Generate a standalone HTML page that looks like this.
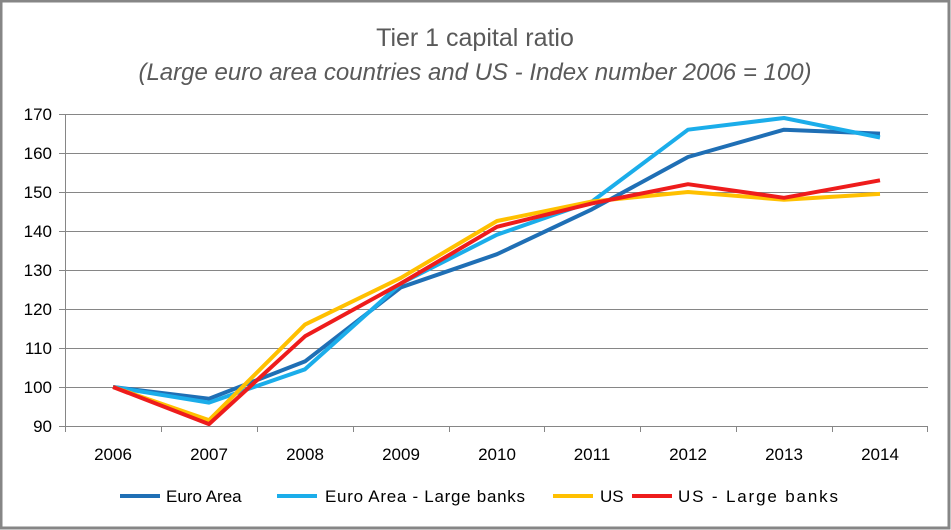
<!DOCTYPE html>
<html><head><meta charset="utf-8"><style>
html,body{margin:0;padding:0;background:#fff}
svg{display:block}
text{font-family:"Liberation Sans",sans-serif}
</style></head><body>
<svg width="951" height="530" xmlns="http://www.w3.org/2000/svg">
<rect x="1" y="1" width="948" height="527" fill="#fff" stroke="#868686" stroke-width="3"/>
<text x="475" y="46" text-anchor="middle" font-size="25" fill="#595959">Tier 1 capital ratio</text>
<text x="475" y="80" text-anchor="middle" font-size="24" font-style="italic" fill="#595959">(Large euro area countries and US - Index number 2006 = 100)</text>
<g stroke="#868686" stroke-width="1">
<line x1="59" y1="114.5" x2="928" y2="114.5"/>
<line x1="59" y1="153.5" x2="928" y2="153.5"/>
<line x1="59" y1="192.5" x2="928" y2="192.5"/>
<line x1="59" y1="231.5" x2="928" y2="231.5"/>
<line x1="59" y1="270.5" x2="928" y2="270.5"/>
<line x1="59" y1="309.5" x2="928" y2="309.5"/>
<line x1="59" y1="348.5" x2="928" y2="348.5"/>
<line x1="59" y1="387.5" x2="928" y2="387.5"/>
<line x1="59" y1="426.5" x2="928" y2="426.5"/>
<line x1="65.5" y1="114" x2="65.5" y2="432"/>
<line x1="161.5" y1="426" x2="161.5" y2="432"/><line x1="257.5" y1="426" x2="257.5" y2="432"/><line x1="353.5" y1="426" x2="353.5" y2="432"/><line x1="449.5" y1="426" x2="449.5" y2="432"/><line x1="544.5" y1="426" x2="544.5" y2="432"/><line x1="640.5" y1="426" x2="640.5" y2="432"/><line x1="736.5" y1="426" x2="736.5" y2="432"/><line x1="832.5" y1="426" x2="832.5" y2="432"/><line x1="927.5" y1="426" x2="927.5" y2="432"/>
</g>
<g font-size="17" fill="#000" text-anchor="end">
<text x="52" y="120">170</text><text x="52" y="159">160</text><text x="52" y="198">150</text><text x="52" y="237">140</text><text x="52" y="276">130</text><text x="52" y="315">120</text><text x="52" y="354">110</text><text x="52" y="393">100</text><text x="52" y="432">90</text>
</g>
<g font-size="17" fill="#000" text-anchor="middle">
<text x="113" y="460">2006</text><text x="209" y="460">2007</text><text x="305" y="460">2008</text><text x="401" y="460">2009</text><text x="497" y="460">2010</text><text x="592" y="460">2011</text><text x="688" y="460">2012</text><text x="784" y="460">2013</text><text x="880" y="460">2014</text>
</g>
<g fill="none" stroke-width="4" stroke-linejoin="round">
<polyline stroke="#1F6FB5" points="113,387 209,398.7 305,361.4 401,287.3 497,254.2 592,209.3 688,157 784,129.7 880,133.6"/>
<polyline stroke="#1BADEA" points="113,387 209,402.6 305,369.3 401,283.4 497,234.7 592,201.5 688,129.7 784,118 880,137.5"/>
<polyline stroke="#FFC000" points="113,387 209,420.2 305,324.6 401,277.8 497,221 592,201.5 688,192 784,199.7 880,193.9"/>
<polyline stroke="#EE1C1C" points="113,387 209,424.1 305,336.3 401,283.4 497,226.8 592,203.4 688,184.2 784,197.8 880,180.3"/>
</g>
<g font-size="17" fill="#000">
<line x1="120" y1="496" x2="160" y2="496" stroke="#1F6FB5" stroke-width="4"/><text x="166" y="502">Euro Area</text>
<line x1="277" y1="496" x2="317" y2="496" stroke="#1BADEA" stroke-width="4"/><text x="325" y="502" textLength="200">Euro Area - Large banks</text>
<line x1="553" y1="496" x2="593" y2="496" stroke="#FFC000" stroke-width="4"/><text x="600" y="502">US</text>
<line x1="632" y1="496" x2="672" y2="496" stroke="#EE1C1C" stroke-width="4"/><text x="678" y="502" textLength="160">US - Large banks</text>
</g>
</svg>
</body></html>
